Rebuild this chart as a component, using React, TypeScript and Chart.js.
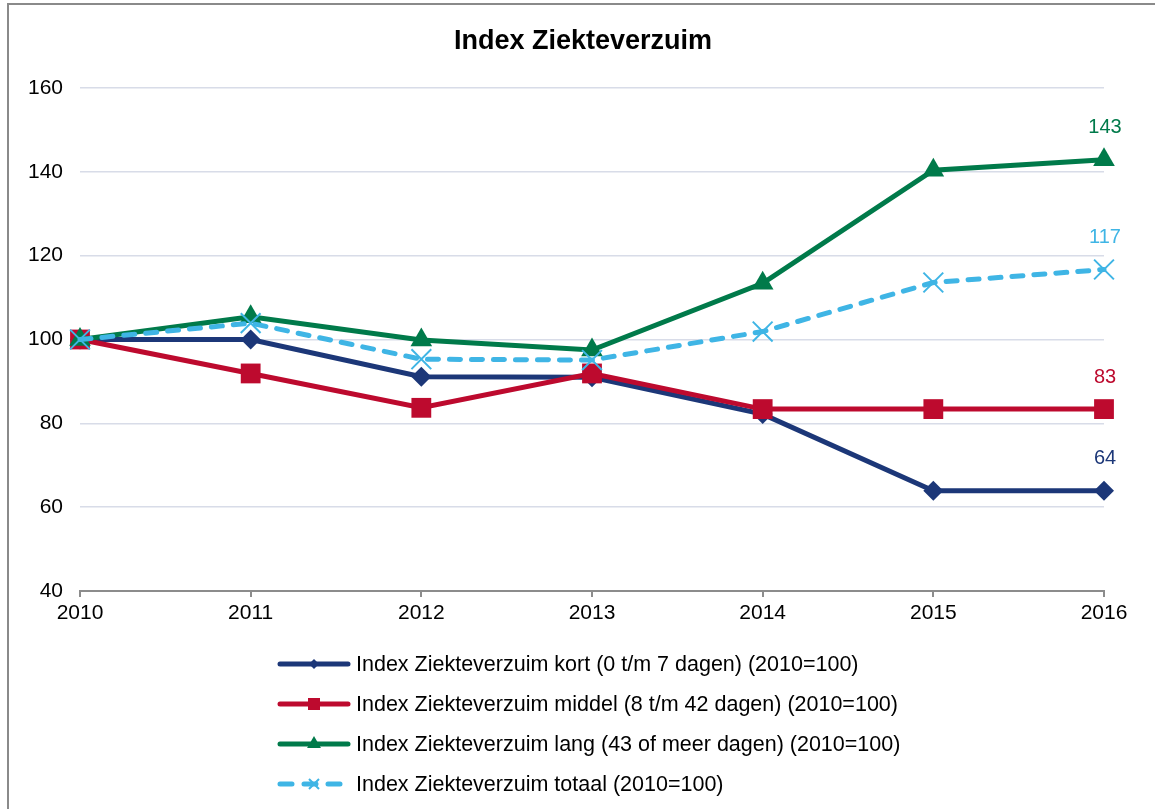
import React, { useEffect, useRef } from 'react';
import { Chart, registerables } from 'chart.js';

Chart.register(...registerables);

const title = 'Index Ziekteverzuim';
const years = ['2010', '2011', '2012', '2013', '2014', '2015', '2016'];
const kort = [100, 100, 91.1, 91, 82.2, 63.9, 63.9];
const middel = [100, 91.9, 83.7, 91.9, 83.4, 83.4, 83.4];
const lang = [100, 105.4, 99.9, 97.5, 113.4, 140.4, 142.9];
const totaal = [100, 103.9, 95.3, 95.1, 101.9, 113.6, 116.7];
const seriesNames = [
  'Index Ziekteverzuim kort (0 t/m 7 dagen) (2010=100)',
  'Index Ziekteverzuim middel (8 t/m 42 dagen) (2010=100)',
  'Index Ziekteverzuim lang (43 of meer dagen) (2010=100)',
  'Index Ziekteverzuim totaal (2010=100)',
];
const yMin = 40;
const yMax = 160;
const yStep = 20;

const NAVY = '#1c3778';
const RED = '#bd0a2e';
const GREEN = '#007a4a';
const BLUE = '#3fb5e5';
const FONT = "'Liberation Sans', Arial, sans-serif";

// canvas offset within the page
const OX = 9;
const OY = 5;

type Marker = 'diamond' | 'square' | 'triangle' | 'cross';

function drawMarker(ctx: CanvasRenderingContext2D, kind: Marker, x: number, y: number, r: number, color: string) {
  ctx.save();
  ctx.fillStyle = color;
  ctx.strokeStyle = color;
  ctx.setLineDash([]);
  ctx.beginPath();
  if (kind === 'diamond') {
    ctx.moveTo(x - r, y);
    ctx.lineTo(x, y - r);
    ctx.lineTo(x + r, y);
    ctx.lineTo(x, y + r);
    ctx.closePath();
    ctx.fill();
  } else if (kind === 'square') {
    ctx.rect(x - r, y - r, 2 * r, 2 * r);
    ctx.fill();
  } else if (kind === 'triangle') {
    ctx.moveTo(x, y - r);
    ctx.lineTo(x + 0.866 * r, y + 0.5 * r);
    ctx.lineTo(x - 0.866 * r, y + 0.5 * r);
    ctx.closePath();
    ctx.fill();
  } else {
    ctx.lineWidth = 2;
    ctx.moveTo(x - r, y - r);
    ctx.lineTo(x + r, y + r);
    ctx.moveTo(x + r, y - r);
    ctx.lineTo(x - r, y + r);
    ctx.stroke();
  }
  ctx.restore();
}

const legendMarkers: Marker[] = ['diamond', 'square', 'triangle', 'cross'];
const legendSizes = [5, 6, 8, 5];
const legendColors = [NAVY, RED, GREEN, BLUE];

const customPlugin = {
  id: 'custom',
  afterDraw(chart: any) {
    const ctx: CanvasRenderingContext2D = chart.ctx;
    // title
    ctx.save();
    ctx.fillStyle = '#000';
    ctx.font = `bold 27px ${FONT}`;
    ctx.textAlign = 'center';
    ctx.textBaseline = 'middle';
    ctx.fillText(title, 583 - OX, 42 - OY);
    ctx.restore();

    // data labels at last point
    chart.data.datasets.forEach((ds: any, i: number) => {
      const meta = chart.getDatasetMeta(i);
      const last = meta.data[meta.data.length - 1];
      const v = ds.data[ds.data.length - 1];
      ctx.save();
      ctx.fillStyle = ds.borderColor;
      ctx.font = `20px ${FONT}`;
      ctx.textAlign = 'center';
      ctx.textBaseline = 'middle';
      ctx.fillText(String(Math.round(v)), last.x + 1, last.y - 32);
      ctx.restore();
    });

    // legend
    chart.data.datasets.forEach((ds: any, i: number) => {
      const y = 664 + 40 * i - OY;
      const x0 = 278 - OX;
      const x1 = 350 - OX;
      ctx.save();
      ctx.strokeStyle = ds.borderColor;
      ctx.lineWidth = 5;
      ctx.lineCap = 'round';
      if (ds.borderDash && ds.borderDash.length) ctx.setLineDash([12, 12]);
      ctx.beginPath();
      ctx.moveTo(x0 + 2, y);
      ctx.lineTo(x1 - 2, y);
      ctx.stroke();
      ctx.restore();
      drawMarker(ctx, legendMarkers[i], (x0 + x1) / 2, y, legendSizes[i], legendColors[i]);
      ctx.save();
      ctx.fillStyle = '#000';
      ctx.font = `21.5px ${FONT}`;
      ctx.textAlign = 'left';
      ctx.textBaseline = 'middle';
      ctx.fillText(seriesNames[i], 356 - OX, y + 1);
      ctx.restore();
    });
  },
};

export default function App() {
  const ref = useRef<HTMLCanvasElement | null>(null);
  useEffect(() => {
    if (!ref.current) return;
    const chart = new Chart(ref.current, {
      type: 'line',
      data: {
        labels: years,
        datasets: [
          {
            label: seriesNames[0],
            data: kort,
            borderColor: NAVY,
            backgroundColor: NAVY,
            borderWidth: 5,
            pointStyle: 'rectRot',
            pointRadius: 10,
            pointBorderWidth: 0,
            pointBackgroundColor: NAVY,
            order: 4,
            clip: false,
            tension: 0,
          },
          {
            label: seriesNames[1],
            data: middel,
            borderColor: RED,
            backgroundColor: RED,
            borderWidth: 5,
            pointStyle: 'rect',
            pointRadius: 14,
            pointBorderWidth: 0,
            pointBackgroundColor: RED,
            order: 3,
            clip: false,
            tension: 0,
          },
          {
            label: seriesNames[2],
            data: lang,
            borderColor: GREEN,
            backgroundColor: GREEN,
            borderWidth: 5,
            pointStyle: 'triangle',
            pointRadius: 12.5,
            pointBorderWidth: 0,
            pointBackgroundColor: GREEN,
            order: 2,
            clip: false,
            tension: 0,
          },
          {
            label: seriesNames[3],
            data: totaal,
            borderColor: BLUE,
            backgroundColor: BLUE,
            borderWidth: 5,
            borderDash: [11, 11],
            borderCapStyle: 'round',
            pointStyle: 'crossRot',
            pointRadius: 14,
            pointBorderWidth: 2,
            pointBorderColor: BLUE,
            order: 1,
            clip: false,
            tension: 0,
          },
        ] as any,
      },
      options: {
        animation: false,
        responsive: false,
        maintainAspectRatio: false,
        layout: { padding: { top: 83, left: 0, right: 51, bottom: 178 } },
        plugins: {
          legend: { display: false },
          title: { display: false },
          tooltip: { enabled: false },
        },
        scales: {
          x: {
            type: 'category',
            offset: false,
            afterFit: (s: any) => {
              s.height = 40;
            },
            grid: {
              display: true,
              drawOnChartArea: false,
              drawTicks: true,
              tickLength: 6,
              color: '#8c8c8c',
              lineWidth: 2,
              offset: false,
            },
            border: { display: true, color: '#8c8c8c', width: 2 },
            ticks: {
              color: '#000',
              font: { family: FONT, size: 21 },
              padding: 4,
              maxRotation: 0,
              autoSkip: false,
            },
          },
          y: {
            min: yMin,
            max: yMax,
            afterFit: (s: any) => {
              s.width = 71;
            },
            grid: {
              drawTicks: false,
              color: (c: any) => (c.tick && c.tick.value === yMin ? 'rgba(0,0,0,0)' : '#d8dce8'),
              lineWidth: 1.5,
            },
            border: { display: false },
            ticks: {
              stepSize: yStep,
              color: '#000',
              font: { family: FONT, size: 21 },
              padding: 17,
            },
          },
        },
      },
      plugins: [customPlugin],
    });
    return () => chart.destroy();
  }, []);

  return (
    <div
      style={{
        position: 'absolute',
        left: 7,
        top: 3,
        width: 1148,
        height: 806,
        borderLeft: '2px solid #8a8a8a',
        borderTop: '2px solid #8a8a8a',
        background: '#fff',
        overflow: 'hidden',
      }}
    >
      <canvas ref={ref} width={1146} height={804} style={{ display: 'block', width: 1146, height: 804 }} />
    </div>
  );
}
